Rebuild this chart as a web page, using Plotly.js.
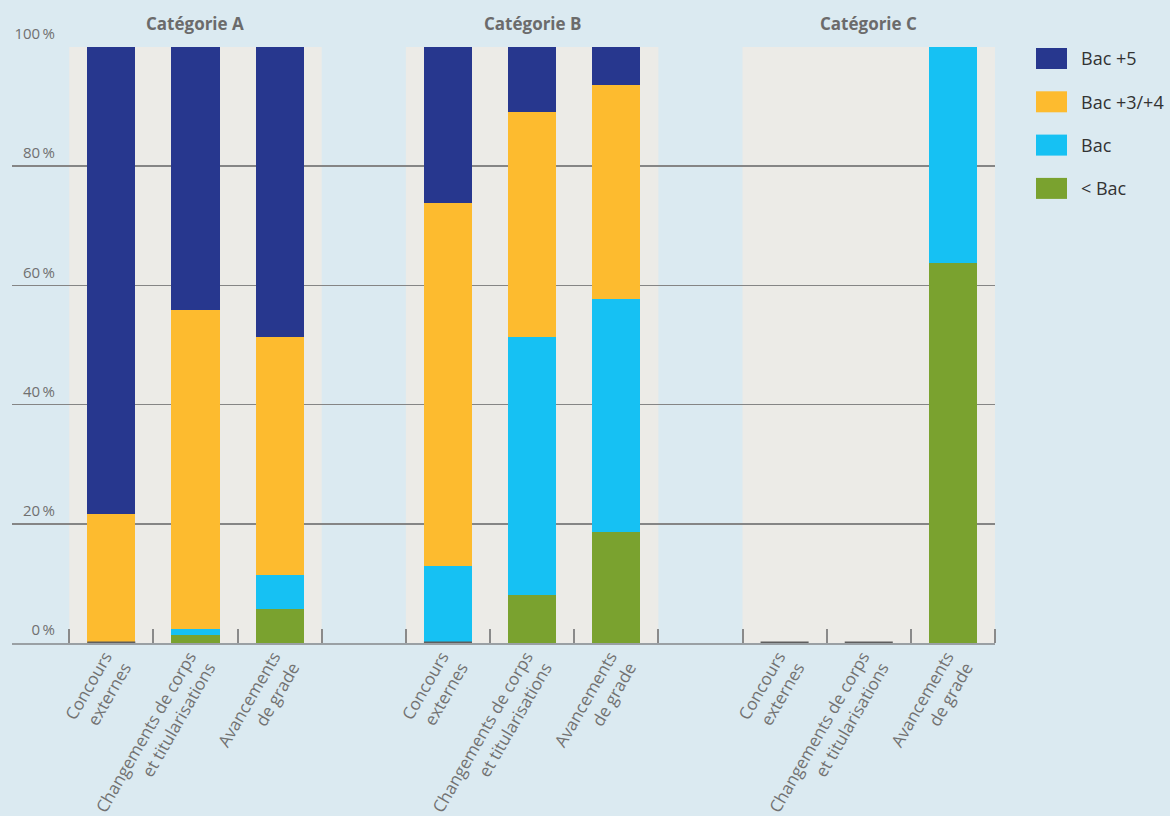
<!DOCTYPE html>
<html lang="fr">
<head>
<meta charset="utf-8">
<script src="https://cdn.plot.ly/plotly-3.0.1.min.js"></script>
<style>
  html, body { margin: 0; padding: 0; background: #dbeaf1; }
  #chart { width: 1170px; height: 816px; }
</style>
</head>
<body>
<div id="chart"></div>
<script>
// Catégories de personnel et types de recrutement
const groups = ['Catégorie A', 'Catégorie B', 'Catégorie C'];
const types = ['Concours<br>externes', 'Changements de corps<br>et titularisations', 'Avancements<br>de grade'];

// Part (en %) de chaque niveau de diplôme, dans l'ordre A1..A3, B1..B3, C1..C3
const seriesNames = ['< Bac', 'Bac', 'Bac +3/+4', 'Bac +5'];
const lowBac = [0, 1.3, 5.7, 0, 8.1, 18.7, 0, 0, 63.7];
const bac    = [0, 1.1, 5.7, 13.0, 43.2, 39.1, 0, 0, 36.3];
const bac34  = [21.7, 53.5, 40.0, 60.9, 37.8, 35.9, 0, 0, 0];
const bac5   = [78.3, 44.1, 48.6, 26.1, 10.9, 6.3, 0, 0, 0];

const yTicks = [0, 20, 40, 60, 80, 100];

const seriesValues = [lowBac, bac, bac34, bac5];
const colors = ['#7aa22f', '#16c1f3', '#fdbb2f', '#27378e'];

// Un emplacement vide sépare chaque catégorie
const slotsPerGroup = types.length + 1;
const slots = [];
const tickText = [];
groups.forEach((g, gi) => {
  types.forEach((t, ti) => {
    slots.push(gi * slotsPerGroup + ti);
    tickText.push(t);
  });
});
const barWidth = 0.571;

const traces = seriesValues.map((vals, si) => ({
  type: 'bar',
  name: seriesNames[si],
  x: slots,
  y: vals,
  width: barWidth,
  marker: { color: colors[si], line: { width: 0 } },
  showlegend: false,
  hoverinfo: 'name+y'
}));

// Trait sombre au pied des colonnes sans effectif « < Bac »
const zx = [], zy = [];
slots.forEach((s, i) => {
  if (lowBac[i] === 0) {
    zx.push(s - barWidth / 2, s + barWidth / 2, null);
    zy.push(0, 0, null);
  }
});
traces.push({
  type: 'scatter', mode: 'lines', x: zx, y: zy,
  line: { color: '#5e5e5e', width: 3 },
  cliponaxis: false, hoverinfo: 'skip', showlegend: false
});

// Géométrie de la zone de tracé (px)
const W = 1170, H = 816;
const M = { l: 12, r: 175, t: 47, b: 173 };
const pw = W - M.l - M.r, ph = H - M.t - M.b;
const px = x => (x - M.l) / pw;
const py = y => (H - M.b - y) / ph;

const shapes = [];
const annotations = [];

// Bandes grisées derrière chaque catégorie + titres
groups.forEach((g, gi) => {
  const first = gi * slotsPerGroup;
  const last = first + types.length - 1;
  shapes.push({
    type: 'rect', layer: 'below', xref: 'x', yref: 'paper',
    x0: first - 0.5, x1: last + 0.5, y0: 0, y1: 1,
    fillcolor: '#ecebe7', line: { width: 0 }
  });
  annotations.push({
    text: '<b>' + g + '</b>', xref: 'x', yref: 'paper',
    x: (first + last) / 2, y: py(23), xanchor: 'center', yanchor: 'middle',
    showarrow: false, font: { family: 'Open Sans', size: 17, color: '#6b6b6b' }
  });
});

// Légende : du niveau le plus élevé au plus bas
const legendTop = 58.5, legendStep = 43.3;
seriesNames.slice().reverse().forEach((name, k) => {
  const ci = seriesNames.length - 1 - k;
  const cy = legendTop + k * legendStep;
  shapes.push({
    type: 'rect', xref: 'paper', yref: 'paper',
    x0: px(1036), x1: px(1067), y0: py(cy + 10.5), y1: py(cy - 10.5),
    fillcolor: colors[ci], line: { width: 0 }
  });
  annotations.push({
    text: name, xref: 'paper', yref: 'paper',
    x: px(1079), y: py(cy), xanchor: 'left', yanchor: 'middle',
    showarrow: false, font: { family: 'Open Sans', size: 18, color: '#333333' }
  });
});

const layout = {
  width: W, height: H,
  margin: M,
  paper_bgcolor: '#dbeaf1',
  plot_bgcolor: 'rgba(0,0,0,0)',
  barmode: 'stack',
  showlegend: false,
  font: { family: 'Open Sans', color: '#707070' },
  xaxis: {
    range: [-1.18, 10.5],
    tickmode: 'array',
    tickvals: slots,
    ticktext: tickText,
    tickangle: -60,
    ticks: '',
    tickfont: { family: 'Open Sans', size: 17, color: '#727272' },
    ticklabelstandoff: -5,
    ticklabelshift: -6,
    showgrid: false,
    zeroline: false,
    showline: true, linecolor: '#9aa0a4', linewidth: 2,
    minor: { tick0: -0.5, dtick: 1, ticks: 'inside', ticklen: 14, tickwidth: 2, tickcolor: '#8a8a8a', showgrid: false },
    automargin: false,
    fixedrange: true
  },
  yaxis: {
    range: [0, 100],
    tickmode: 'array',
    tickvals: yTicks,
    ticktext: yTicks.map(v => v + '\u2009%'),
    ticks: '',
    tickfont: { family: 'Open Sans', size: 15, color: '#707070' },
    ticklabelshift: -13,
    ticklabelstandoff: -44,
    showgrid: true, gridcolor: '#858585', gridwidth: 1.5,
    zeroline: false,
    showline: false,
    automargin: false,
    fixedrange: true
  },
  shapes: shapes,
  annotations: annotations
};

Plotly.newPlot('chart', traces, layout, { displayModeBar: false, staticPlot: true });
</script>
</body>
</html>
